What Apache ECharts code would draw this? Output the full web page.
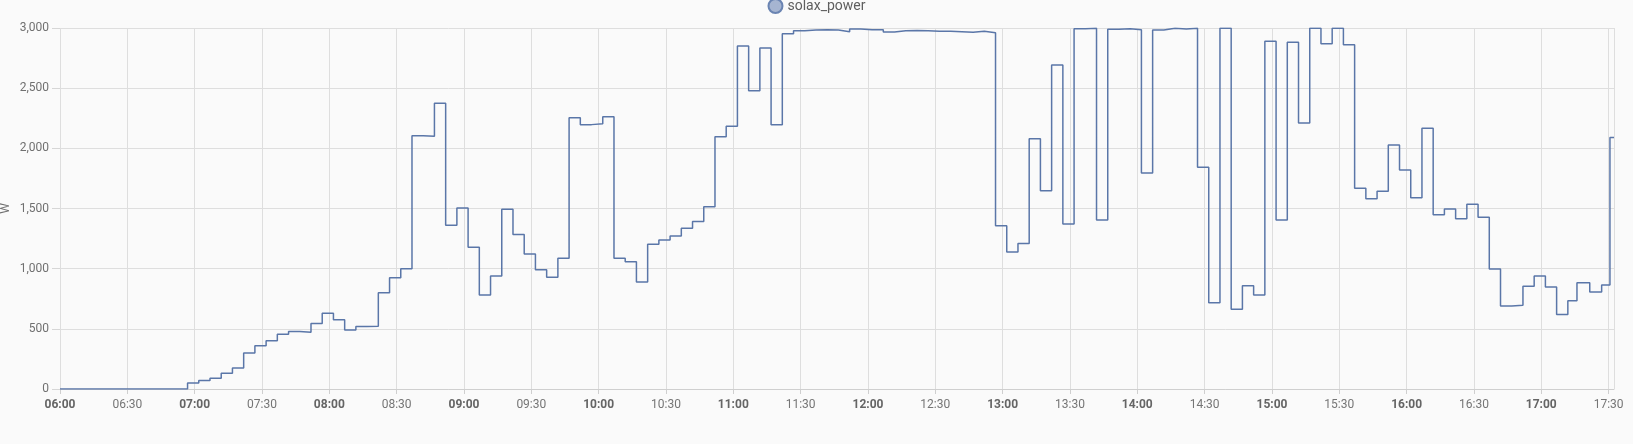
<!DOCTYPE html>
<html>
<head>
<meta charset="utf-8">
<script src="https://cdn.jsdelivr.net/npm/echarts@6/dist/echarts.min.js"></script>
<style>
  html, body { margin: 0; padding: 0; background: #fafafa; }
  #chart { width: 1633px; height: 444px; }
</style>
</head>
<body>
<div id="chart"></div>
<script>
// Start time of each reading (value holds until the next reading)
const times = [
  "06:00:00","06:56:50","07:01:50","07:06:50","07:11:50","07:16:50","07:21:50","07:26:50","07:31:50","07:36:50",
  "07:41:50","07:46:50","07:51:50","07:56:50","08:01:50","08:06:50","08:11:50","08:16:50","08:21:50","08:26:50",
  "08:31:50","08:36:50","08:41:50","08:46:50","08:51:50","08:56:50","09:01:50","09:06:50","09:11:50","09:16:50",
  "09:21:50","09:26:50","09:31:50","09:36:50","09:41:50","09:46:50","09:51:50","09:56:50","10:01:50","10:06:50",
  "10:11:50","10:16:50","10:21:50","10:26:50","10:31:50","10:36:50","10:41:50","10:46:50","10:51:50","10:56:50",
  "11:01:50","11:06:50","11:11:50","11:16:50","11:21:50","11:26:50","11:31:50","11:36:50","11:41:50","11:46:50",
  "11:51:50","11:56:50","12:01:50","12:06:50","12:11:50","12:16:50","12:21:50","12:26:50","12:31:50","12:36:50",
  "12:41:50","12:46:50","12:51:50","12:56:50","13:01:50","13:06:50","13:11:50","13:16:50","13:21:50","13:26:50",
  "13:31:50","13:36:50","13:41:50","13:46:50","13:51:50","13:56:50","14:01:50","14:06:50","14:11:50","14:16:50",
  "14:21:50","14:26:50","14:31:50","14:36:50","14:41:50","14:46:50","14:51:50","14:56:50","15:01:50","15:06:50",
  "15:11:50","15:16:50","15:21:50","15:26:50","15:31:50","15:36:50","15:41:50","15:46:50","15:51:50","15:56:50",
  "16:01:50","16:06:50","16:11:50","16:16:50","16:21:50","16:26:50","16:31:50","16:36:50","16:41:50","16:46:50",
  "16:51:50","16:56:50","17:01:50","17:06:50","17:11:50","17:15:54","17:21:36","17:26:54","17:30:36","17:32:24"
];
// solax_power (W)
const solaxPower = [
  0,50,70,90,130,175,300,360,400,455,
  478,472,545,630,575,490,520,522,800,925,
  1000,2105,2100,2375,1360,1504,1177,781,939,1493,
  1283,1122,992,928,1086,2255,2197,2205,2263,1086,
  1058,889,1202,1238,1271,1335,1393,1515,2097,2183,
  2850,2479,2834,2197,2953,2978,2983,2986,2983,2969,
  2992,2986,2985,2967,2978,2980,2978,2972,2972,2969,
  2964,2972,2961,1357,1138,1210,2080,1648,2692,1371,
  2994,2997,1404,2989,2994,2986,1795,2983,2997,2992,
  2997,1842,717,2997,662,859,781,2889,1404,2881,
  2210,2997,2870,2997,2861,1668,1582,1643,2028,1820,
  1590,2166,1449,1496,1415,1535,1427,997,690,695,
  853,939,848,620,734,884,806,864,2089,2089
];
const axisStart = "06:00:00";
const axisEnd = "17:32:24";
const yTicks = [0, 500, 1000, 1500, 2000, 2500, 3000];
const seriesName = "solax_power";

function toMin(s) {
  const p = s.split(":").map(Number);
  return p[0] * 60 + p[1] + (p[2] || 0) / 60;
}
const t0 = toMin(axisStart);
const data = times.map((t, i) => [toMin(t) - t0, solaxPower[i]]);
const xMax = toMin(axisEnd) - t0;

function fmtX(v) {
  const m = Math.round(v + t0);
  const h = Math.floor(m / 60), mm = m % 60;
  const s = String(h).padStart(2, "0") + ":" + String(mm).padStart(2, "0");
  return mm === 0 ? "{b|" + s + "}" : "{n|" + s + "}";
}

const chart = echarts.init(document.getElementById("chart"), null, { renderer: "canvas" });
chart.setOption({
  backgroundColor: "#fafafa",
  animation: false,
  textStyle: { fontFamily: "Roboto, sans-serif" },
  legend: {
    top: -7,
    left: "center",
    icon: "circle",
    itemWidth: 14,
    itemHeight: 14,
    itemGap: 10,
    textStyle: { color: "#5e5e5e", fontSize: 14, fontFamily: "Roboto, sans-serif" },
    data: [seriesName]
  },
  grid: { left: 60, right: 19, top: 28, bottom: 55, containLabel: false, outerBoundsMode: "none" },
  xAxis: {
    type: "value",
    min: 0,
    max: xMax,
    interval: 30,
    axisLine: { show: true, lineStyle: { color: "#cfcfcf" } },
    axisTick: { show: true, length: 5, lineStyle: { color: "#cfcfcf" } },
    splitLine: {
      show: true,
      lineStyle: { color: "#dedede", width: 1 },
      interval: function (idx, val) { return Math.abs(val % 30) < 1e-6; }
    },
    axisLabel: {
      margin: 10,
      showMaxLabel: false,
      formatter: fmtX,
      rich: {
        b: { fontWeight: "bold", color: "#656565", fontSize: 12, fontFamily: "Roboto, sans-serif" },
        n: { color: "#757575", fontSize: 12, fontFamily: "Roboto, sans-serif" }
      }
    }
  },
  yAxis: {
    type: "value",
    min: yTicks[0],
    max: yTicks[yTicks.length - 1],
    interval: yTicks[1] - yTicks[0],
    name: "W",
    nameLocation: "middle",
    nameGap: 48,
    nameMoveOverlap: false,
    nameTextStyle: { color: "#6e6e6e", fontSize: 12 },
    axisLine: { show: false },
    axisTick: { show: true, length: 8, lineStyle: { color: "#d6d6d6" } },
    splitLine: { show: true, lineStyle: { color: "#dedede", width: 1 } },
    axisLabel: {
      margin: 11,
      color: "#707070",
      fontSize: 12,
      formatter: v => v.toLocaleString("en-US")
    }
  },
  series: [{
    name: seriesName,
    type: "line",
    step: "end",
    showSymbol: false,
    symbol: "circle",
    data: data,
    lineStyle: { color: "#5a76a8", width: 1.5 },
    itemStyle: { color: "#a6b5d1", borderColor: "#6a84b2", borderWidth: 1.5 }
  }]
});
</script>
</body>
</html>
